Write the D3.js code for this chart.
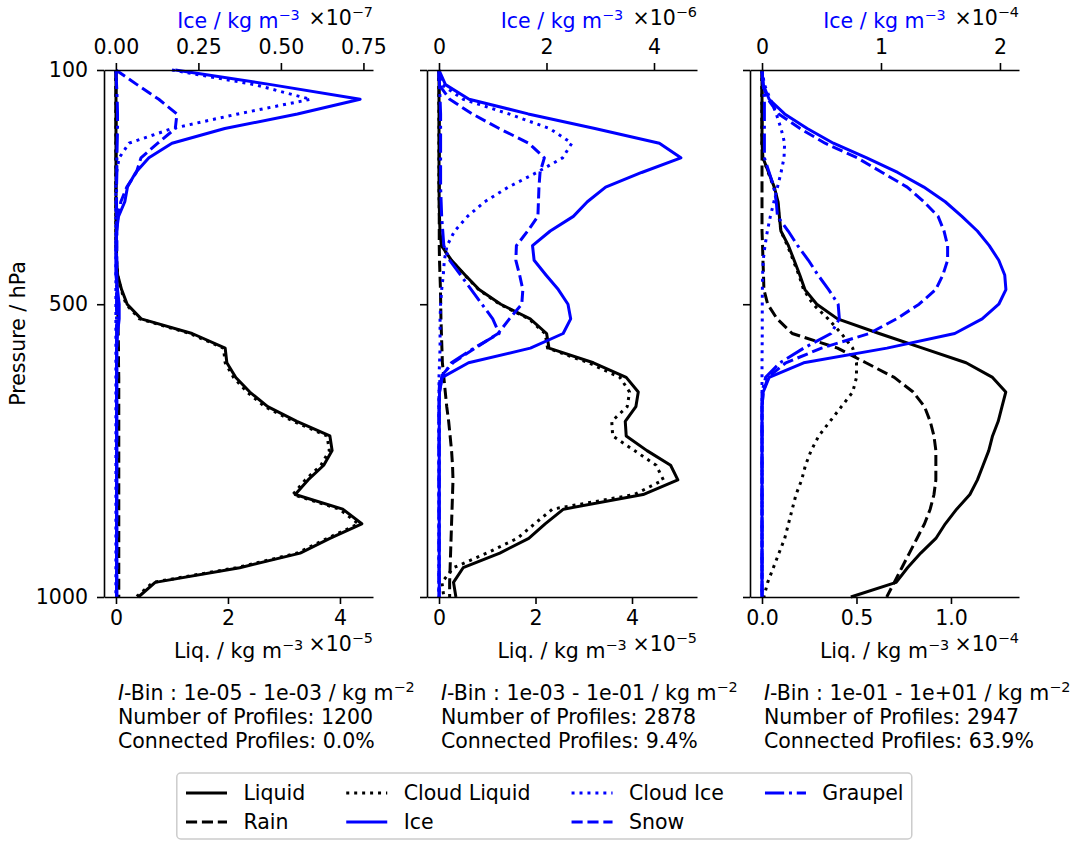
<!DOCTYPE html>
<meta charset="utf-8">
<script src="https://d3js.org/d3.v7.min.js"></script>
<style>
    body { margin: 0; background: #fff; }
    svg text { font-family: "DejaVu Sans", sans-serif; font-size: 20.5px; }
</style>
<div id="my_dataviz"></div>
<script>

// pressure levels (hPa), shared by all panels
const pressure = [100, 125, 150, 175, 200, 225, 250, 275, 300, 325,
                  350, 375, 400, 425, 450, 475, 500, 525, 550, 575,
                  600, 625, 650, 675, 700, 725, 750, 775, 800, 825,
                  850, 875, 900, 925, 950, 975, 1000];

// ---- panel 1 (liquid x1e-5, ice x1e-7)
const p1Liquid = [0, 0, 0, 0, 0, 0, 0, 0, 0, 0,
    0, 0, 0, 0.01, 0.03, 0.1, 0.2, 0.45, 1.36, 1.95,
    1.98, 2.14, 2.39, 2.71, 3.23, 3.82, 3.86, 3.71, 3.43, 3.2,
    4.05, 4.39, 3.82, 3.29, 2.21, 0.7, 0.4];
const p1Rain = [0, 0, 0, 0, 0, 0, 0, 0, 0, 0,
    0.005, 0.005, 0.01, 0.01, 0.015, 0.02, 0.03, 0.035, 0.04, 0.045,
    0.045, 0.05, 0.05, 0.05, 0.05, 0.05, 0.05, 0.05, 0.05, 0.05,
    0.05, 0.05, 0.05, 0.05, 0.05, 0.05, 0.05];
const p1CloudLiq = [0, 0, 0, 0, 0, 0, 0, 0, 0, 0,
    0, 0, 0, 0.01, 0.03, 0.09, 0.18, 0.42, 1.32, 1.92,
    1.95, 2.1, 2.34, 2.66, 3.17, 3.77, 3.81, 3.66, 3.38, 3.16,
    3.99, 4.33, 3.77, 3.24, 2.15, 0.66, 0.36];
const p1Ice = [0.18, 0.47, 0.74, 0.55, 0.33, 0.17, 0.1, 0.06, 0.035, 0.027,
    0.008, 0.002, 0, 0, 0, 0.005, 0.01, 0.01, 0.005, 0.002,
    0.002, 0.002, 0.002, 0.002, 0.002, 0.002, 0.002, 0.002, 0.002, 0.002,
    0.002, 0.002, 0.002, 0.002, 0.002, 0.002, 0.002];
const p1CloudIce = [0.17, 0.42, 0.59, 0.37, 0.17, 0.04, 0.01, 0.002, 0, 0,
    0, 0, 0, 0, 0, 0, 0, 0, 0, 0,
    0, 0, 0, 0, 0, 0, 0, 0, 0, 0,
    0, 0, 0, 0, 0, 0, 0];
const p1Snow = [0, 0.064, 0.13, 0.185, 0.18, 0.127, 0.076, 0.062, 0.033, 0.015,
    0.006, 0.003, 0.003, 0.003, 0.003, 0.003, 0.003, 0.003, 0.003, 0.003,
    0.003, 0.003, 0.003, 0.003, 0.003, 0.003, 0.003, 0.003, 0.003, 0.003,
    0.003, 0.003, 0.003, 0.003, 0.003, 0.003, 0.003];
const p1Graupel = [0, 0.002, 0.004, 0.005, 0.005, 0.004, 0.003, 0.003, 0.002, 0.002,
    0.002, 0.002, 0.002, 0.002, 0.002, 0.002, 0.002, 0.002, 0.002, 0.002,
    0.002, 0.002, 0.002, 0.002, 0.002, 0.002, 0.002, 0.002, 0.002, 0.002,
    0.002, 0.002, 0.002, 0.002, 0.002, 0.002, 0.002];

// ---- panel 2 (liquid x1e-5, ice x1e-6)
const p2Liquid = [0, 0, 0, 0, 0, 0, 0, 0, 0, 0.005,
    0.01, 0.02, 0.05, 0.26, 0.54, 0.83, 1.28, 1.89, 2.23, 2.28,
    3.2, 3.88, 4.13, 4.08, 3.86, 3.88, 4.31, 4.8, 4.95, 4.23,
    2.58, 2.2, 1.86, 1.26, 0.5, 0.3, 0.35];
const p2Rain = [0, 0, 0, 0.005, 0.005, 0.005, 0.005, 0.005, 0.005, 0.005,
    0.005, 0.005, 0.005, 0.01, 0.02, 0.03, 0.035, 0.04, 0.05, 0.06,
    0.07, 0.1, 0.13, 0.16, 0.2, 0.23, 0.26, 0.28, 0.29, 0.28,
    0.27, 0.26, 0.25, 0.24, 0.23, 0.22, 0.22];
const p2CloudLiq = [0, 0, 0, 0, 0, 0, 0, 0, 0, 0.005,
    0.01, 0.02, 0.05, 0.25, 0.53, 0.82, 1.26, 1.86, 2.2, 2.25,
    3.1, 3.75, 3.95, 3.9, 3.58, 3.6, 4.05, 4.5, 4.65, 4.05,
    2.35, 1.98, 1.62, 0.99, 0.3, 0.06, 0.1];
const p2Ice = [0, 0.12, 0.56, 1.66, 2.9, 4.1, 4.5, 3.77, 3.1, 2.76,
    2.5, 2.07, 1.74, 1.77, 1.99, 2.22, 2.4, 2.45, 2.31, 1.7,
    0.55, 0.06, 0.01, 0.005, 0.005, 0.005, 0.005, 0.005, 0.005, 0.005,
    0.005, 0.005, 0.005, 0.005, 0.005, 0.005, 0.005];
const p2CloudIce = [0, 0.05, 0.45, 1.3, 2.06, 2.47, 2.3, 1.82, 1.29, 0.85,
    0.53, 0.29, 0.15, 0.1, 0.08, 0.05, 0.03, 0.02, 0.02, 0.02,
    0.01, 0, 0, 0, 0, 0, 0, 0, 0, 0,
    0, 0, 0, 0, 0, 0, 0];
const p2Snow = [0, 0, 0.2, 0.62, 1.12, 1.67, 1.96, 1.88, 1.86, 1.85,
    1.84, 1.65, 1.44, 1.43, 1.5, 1.56, 1.54, 1.31, 1.1, 0.67,
    0.26, 0.02, 0, 0, 0, 0, 0, 0, 0, 0,
    0, 0, 0, 0, 0, 0, 0];
const p2Graupel = [0, 0.01, 0.02, 0.03, 0.03, 0.03, 0.03, 0.03, 0.03, 0.04,
    0.05, 0.07, 0.09, 0.2, 0.4, 0.6, 0.8, 1.0, 1.12, 0.65,
    0.23, 0.05, 0.01, 0, 0, 0, 0, 0, 0, 0,
    0, 0, 0, 0, 0, 0, 0];

// ---- panel 3 (liquid x1e-4, ice x1e-4)
const p3Liquid = [0, 0, 0, 0, 0, 0, 0.005, 0.035, 0.065, 0.085,
    0.092, 0.1, 0.14, 0.17, 0.2, 0.227, 0.29, 0.4, 0.62, 0.85,
    1.08, 1.22, 1.29, 1.27, 1.25, 1.22, 1.2, 1.17, 1.14, 1.1,
    1.03, 0.97, 0.92, 0.84, 0.77, 0.71, 0.47];
const p3Rain = [0, 0, 0, 0, 0, 0, 0, 0, 0, 0,
    0, 0, 0.003, 0.005, 0.008, 0.01, 0.03, 0.08, 0.16, 0.4,
    0.55, 0.7, 0.8, 0.86, 0.89, 0.91, 0.92, 0.92, 0.92, 0.91,
    0.89, 0.86, 0.82, 0.78, 0.74, 0.7, 0.66];
const p3CloudLiq = [0, 0, 0, 0, 0, 0, 0.005, 0.033, 0.062, 0.082,
    0.09, 0.1, 0.135, 0.165, 0.195, 0.22, 0.27, 0.35, 0.42, 0.48,
    0.5, 0.5, 0.48, 0.42, 0.36, 0.3, 0.26, 0.23, 0.21, 0.18,
    0.16, 0.14, 0.12, 0.09, 0.06, 0.03, 0.01];
const p3Ice = [0, 0.01, 0.06, 0.19, 0.38, 0.6, 0.88, 1.14, 1.36, 1.54,
    1.68, 1.81, 1.91, 1.99, 2.04, 2.05, 1.99, 1.85, 1.62, 1.05,
    0.35, 0.06, 0.01, 0, 0, 0, 0, 0, 0, 0,
    0, 0, 0, 0, 0, 0, 0];
const p3CloudIce = [0, 0.02, 0.07, 0.12, 0.16, 0.19, 0.185, 0.16, 0.13, 0.1,
    0.07, 0.045, 0.025, 0.01, 0.005, 0.003, 0.002, 0.002, 0.002, 0.001,
    0, 0, 0, 0, 0, 0, 0, 0, 0, 0,
    0, 0, 0, 0, 0, 0, 0];
const p3Snow = [0, 0.005, 0.05, 0.14, 0.32, 0.53, 0.8, 1.01, 1.22, 1.36,
    1.48, 1.53, 1.56, 1.56, 1.52, 1.46, 1.32, 1.13, 0.9, 0.5,
    0.2, 0.05, 0.01, 0, 0, 0, 0, 0, 0, 0,
    0, 0, 0, 0, 0, 0, 0];
const p3Graupel = [0, 0.01, 0.02, 0.02, 0.02, 0.02, 0.02, 0.06, 0.1, 0.12,
    0.13, 0.22, 0.3, 0.39, 0.47, 0.56, 0.64, 0.65, 0.58, 0.35,
    0.15, 0.03, 0, 0, 0, 0, 0, 0, 0, 0,
    0, 0, 0, 0, 0, 0, 0];

// axis settings per panel
const liqExponent = ["5", "5", "4"];
const iceExponent = ["7", "6", "4"];
const liqTicks = [[0, 2, 4], [0, 2, 4], [0, 0.5, 1.0]];
const iceTicks = [[0, 0.25, 0.5, 0.75], [0, 2, 4], [0, 1, 2]];
const liqFormat = [".0f", ".0f", ".1f"];
const iceFormat = [".2f", ".0f", ".0f"];
const liqDomains = [[-0.214, 4.59], [-0.249, 5.347], [-0.0635, 1.36]];
const iceDomains = [[-0.036, 0.779], [-0.223, 4.8], [-0.101, 2.16]];

// text under each panel
const binRanges = ["1e-05 - 1e-03", "1e-03 - 1e-01", "1e-01 - 1e+01"];
const profileCounts = [1200, 2878, 2947];
const connectedPct = ["0.0", "9.4", "63.9"];

const legendOrder = ["Liquid", "Rain", "Cloud Liquid", "Ice", "Cloud Ice", "Snow", "Graupel"];

const panelData = [
    {liq: {"Liquid": p1Liquid, "Rain": p1Rain, "Cloud Liquid": p1CloudLiq},
     ice: {"Ice": p1Ice, "Cloud Ice": p1CloudIce, "Snow": p1Snow, "Graupel": p1Graupel}},
    {liq: {"Liquid": p2Liquid, "Rain": p2Rain, "Cloud Liquid": p2CloudLiq},
     ice: {"Ice": p2Ice, "Cloud Ice": p2CloudIce, "Snow": p2Snow, "Graupel": p2Graupel}},
    {liq: {"Liquid": p3Liquid, "Rain": p3Rain, "Cloud Liquid": p3CloudLiq},
     ice: {"Ice": p3Ice, "Cloud Ice": p3CloudIce, "Snow": p3Snow, "Graupel": p3Graupel}}
];

// line styles (matplotlib-like dashes scaled to the line width)
const styles = {
    "Liquid":       {color: "#000000", dash: null},
    "Rain":         {color: "#000000", dash: "11.1,4.8"},
    "Cloud Liquid": {color: "#000000", dash: "3,4.95"},
    "Ice":          {color: "#0000ff", dash: null},
    "Cloud Ice":    {color: "#0000ff", dash: "3,4.95"},
    "Snow":         {color: "#0000ff", dash: "11.1,4.8"},
    "Graupel":      {color: "#0000ff", dash: "19.2,4.8,3,4.8"}
};

const chartW = 1078, chartH = 845;
const panelX = [[104, 373], [427, 697], [750, 1019]];
const plotTop = 70, plotBottom = 597;
const lw = 3;
const fs = 20.5, supFs = 14.4;

const svg = d3.select("#my_dataviz")
    .append("svg")
    .attr("width", chartW)
    .attr("height", chartH);

const y = d3.scaleLinear().domain([100, 1000]).range([plotTop, plotBottom]);

// text with superscript parts: parts = [[text, sup?, italic?], ...]
function richText(g, x, yy, parts, anchor, color) {
    const t = g.append("text")
        .attr("x", x).attr("y", yy)
        .attr("text-anchor", anchor)
        .attr("fill", color || "#000");
    let raised = false;
    parts.forEach(p => {
        const s = t.append("tspan").text(p[0]);
        if (p[1] && !raised) { s.attr("dy", -8.5).style("font-size", supFs + "px"); raised = true; }
        else if (!p[1] && raised) { s.attr("dy", 8.5); raised = false; }
        else if (p[1]) s.style("font-size", supFs + "px");
        if (p[2]) s.style("font-style", "italic");
    });
    return t;
}

function styleAxis(g) {
    g.select(".domain").attr("stroke", "#000").attr("stroke-width", 1.6);
    g.selectAll(".tick line").attr("stroke", "#000").attr("stroke-width", 1.6);
    g.selectAll(".tick text").attr("fill", "#000").style("font-size", fs + "px")
        .style("font-family", "DejaVu Sans");
}

panelData.forEach((pd, i) => {
    const [x0, x1] = panelX[i];
    const g = svg.append("g");

    const xLiq = d3.scaleLinear().domain(liqDomains[i]).range([x0, x1]);
    const xIce = d3.scaleLinear().domain(iceDomains[i]).range([x0, x1]);

    // liquid series (bottom axis)
    Object.keys(pd.liq).forEach(name => {
        const line = d3.line().x(d => xLiq(d[0])).y(d => y(d[1]));
        g.append("path")
            .datum(d3.zip(pd.liq[name], pressure))
            .attr("d", line)
            .attr("fill", "none")
            .attr("stroke", styles[name].color)
            .attr("stroke-width", lw)
            .attr("stroke-linejoin", "round")
            .attr("stroke-dasharray", styles[name].dash);
    });
    // ice series (top axis)
    ["Ice", "Cloud Ice", "Snow", "Graupel"].forEach(name => {
        const line = d3.line().x(d => xIce(d[0])).y(d => y(d[1]));
        g.append("path")
            .datum(d3.zip(pd.ice[name], pressure))
            .attr("d", line)
            .attr("fill", "none")
            .attr("stroke", styles[name].color)
            .attr("stroke-width", lw)
            .attr("stroke-linejoin", "round")
            .attr("stroke-dasharray", styles[name].dash);
    });

    // axes
    const ax = g.append("g").attr("transform", `translate(0,${plotBottom})`)
        .call(d3.axisBottom(xLiq).tickValues(liqTicks[i]).tickSize(7).tickPadding(6)
            .tickSizeOuter(0).tickFormat(d3.format(liqFormat[i])));
    styleAxis(ax);
    const axT = g.append("g").attr("transform", `translate(0,${plotTop})`)
        .call(d3.axisTop(xIce).tickValues(iceTicks[i]).tickSize(7).tickPadding(9)
            .tickSizeOuter(0).tickFormat(d3.format(iceFormat[i])));
    styleAxis(axT);
    const ay = g.append("g").attr("transform", `translate(${x0},0)`)
        .call(d3.axisLeft(y).tickValues([100, 500, 1000]).tickSize(7).tickPadding(9)
            .tickSizeOuter(0).tickFormat(i === 0 ? d3.format("d") : () => ""));
    styleAxis(ay);

    const cx = (x0 + x1) / 2;
    // axis labels
    richText(g, cx, 658, [["Liq. / kg m", false], ["\u22123", true]], "middle");
    richText(g, x1, 651, [["\u00d710", false], ["\u2212" + liqExponent[i], true]], "end");
    richText(g, cx, 28, [["Ice / kg m", false], ["\u22123", true]], "middle", "#0000ff");
    richText(g, x1, 25, [["\u00d710", false], ["\u2212" + iceExponent[i], true]], "end");

    // info text
    const tx = x0 + 14;
    richText(g, tx, 700, [["I", false, true], ["-Bin : " + binRanges[i] + " / kg m", false], ["\u22122", true]], "start");
    richText(g, tx, 724, [["Number of Profiles: " + profileCounts[i], false]], "start");
    richText(g, tx, 748, [["Connected Profiles: " + connectedPct[i] + "%", false]], "start");
});

// y label
svg.append("text")
    .attr("transform", "translate(25,333.5) rotate(-90)")
    .attr("text-anchor", "middle")
    .text("Pressure / hPa");

// legend: 4 columns, filled column by column
const leg = svg.append("g");
const handleLen = 41, textPad = 16.4, colGap = 41, border = 8.2;
const rowY = [793, 822];
const boxRect = leg.append("rect");
const legX0 = 186;
let colX = legX0;
const cols = d3.range(4).map(c => legendOrder.slice(c * 2, c * 2 + 2));
cols.forEach(items => {
    let maxW = 0;
    items.forEach((name, r) => {
        leg.append("line")
            .attr("x1", colX).attr("x2", colX + handleLen)
            .attr("y1", rowY[r]).attr("y2", rowY[r])
            .attr("stroke", styles[name].color)
            .attr("stroke-width", lw)
            .attr("stroke-dasharray", styles[name].dash);
        const t = leg.append("text")
            .attr("x", colX + handleLen + textPad)
            .attr("y", rowY[r])
            .attr("dy", "0.35em")
            .text(name);
        maxW = Math.max(maxW, t.node().getComputedTextLength());
    });
    colX += handleLen + textPad + maxW + colGap;
});
const boxRight = colX - colGap + border;
boxRect.attr("x", legX0 - border - 1).attr("y", 773)
    .attr("width", boxRight - (legX0 - border - 1)).attr("height", 66)
    .attr("rx", 4)
    .attr("fill", "#fff")
    .attr("stroke", "#cccccc")
    .attr("stroke-width", 1.5);

</script>
